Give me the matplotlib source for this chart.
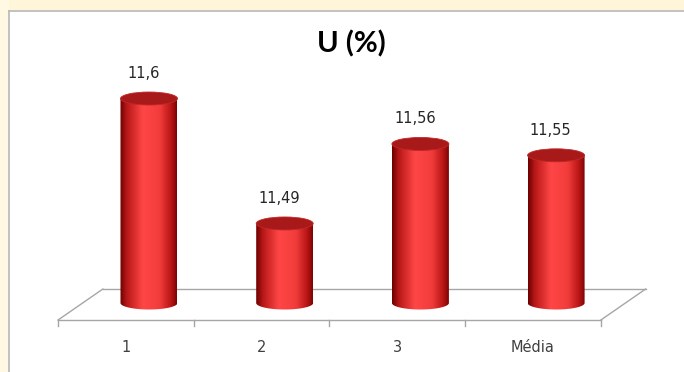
import numpy as np
import matplotlib
matplotlib.use("Agg")
import matplotlib.pyplot as plt
from matplotlib.colors import LinearSegmentedColormap
from matplotlib.patches import Ellipse, PathPatch, Rectangle
from matplotlib.path import Path

categories = ["1", "2", "3", "Média"]
values = [11.6, 11.49, 11.56, 11.55]
value_labels = ["11,6", "11,49", "11,56", "11,55"]
title = "U (%)"

# axis scale (Excel 3D column, minimum 11.42)
y_min = 11.42
px_per_unit = 1136.0
base_px = 303.0          # pixel row of the bar bottoms (from top)
x0_px, dx_px = 149.0, 135.7
W, H = 684, 372

fig = plt.figure(figsize=(W / 100, H / 100), dpi=100)
fig.patch.set_facecolor("white")

# cream surround + grey frame of the chart panel
fig.patches.append(Rectangle((0, 1 - 10 / H), 1, 10 / H, transform=fig.transFigure,
                             facecolor="#FFF5D8", edgecolor="none", zorder=0))
fig.patches.append(Rectangle((0, 0), 9 / W, 1, transform=fig.transFigure,
                             facecolor="#FFF8E2", edgecolor="none", zorder=0))
fig.add_artist(plt.Line2D([9 / W, 1], [1 - 10.5 / H, 1 - 10.5 / H], color="#B8B8B8", lw=1.2))
fig.add_artist(plt.Line2D([9 / W, 9 / W], [0, 1 - 10.5 / H], color="#B8B8B8", lw=1.2))

ax = fig.add_axes([0, 0, 1, 1])
ax.axis("off")

xlim = ((0 - x0_px) / dx_px, (W - x0_px) / dx_px)
ylim = (y_min - (H - base_px) / px_per_unit, y_min + base_px / px_per_unit)

def py(px):
    # pixel offset to value units
    return px / px_per_unit

# floor
front_y = y_min - py(17)
back_y = y_min + py(14)
n = len(categories)
fx = np.arange(n + 1) - 0.67
shift = 0.33
lc = "#A6A6A6"
ax.plot([fx[0], fx[-1]], [front_y, front_y], color=lc, lw=1, zorder=1)
ax.plot([fx[0] + shift, fx[-1] + shift], [back_y, back_y], color=lc, lw=1, zorder=1)
ax.plot([fx[0], fx[0] + shift], [front_y, back_y], color=lc, lw=1, zorder=1)
ax.plot([fx[-1], fx[-1] + shift], [front_y, back_y], color=lc, lw=1, zorder=1)
for t in fx:
    ax.plot([t, t], [front_y, front_y - py(6)], color=lc, lw=1, zorder=1)
for i, c in enumerate(categories):
    ax.text(i - 0.17, front_y - py(27), c, ha="center", va="center",
            fontsize=10.5, color="#404040", family="DejaVu Sans")

# cylinders
cmap = LinearSegmentedColormap.from_list("cyl", [
    (0.0, "#6E0000"), (0.12, "#B81818"), (0.4, "#FF4646"),
    (0.7, "#F23C3C"), (0.9, "#B81515"), (1.0, "#7E0303")])
grad = np.linspace(0, 1, 200)[None, :]
bw = 57 / dx_px
eh = py(13)
t = np.linspace(np.pi, 2 * np.pi, 60)
for i, v in enumerate(values):
    left, right = i - bw / 2, i + bw / 2
    yb = y_min
    pts = [(left, v), (left, yb)]
    pts += [(i + bw / 2 * np.cos(a), yb + eh / 2 * np.sin(a)) for a in t]
    pts += [(right, yb), (right, v), (left, v)]
    clip = PathPatch(Path(pts), transform=ax.transData, facecolor="none", edgecolor="none")
    ax.add_patch(clip)
    im = ax.imshow(grad, cmap=cmap, aspect="auto", extent=(left, right, yb - eh, v),
                   zorder=2, interpolation="bilinear")
    im.set_clip_path(clip)
    ax.add_patch(Ellipse((i, v), bw, eh, facecolor="#A81A1A",
                         edgecolor="#C42626", lw=0.6, zorder=3))
    ax.annotate(value_labels[i], (i, v), xytext=(-4, 18), textcoords="offset points",
                ha="center", va="center", fontsize=10.5, color="#262626",
                family="DejaVu Sans")

ax.set_xlim(*xlim)
ax.set_ylim(*ylim)

fig.text(351 / W, 1 - 44 / H, title, ha="center", va="center", fontsize=21,
         fontweight="bold", color="black", family="Lato")

fig.savefig("out.png", dpi=100)
